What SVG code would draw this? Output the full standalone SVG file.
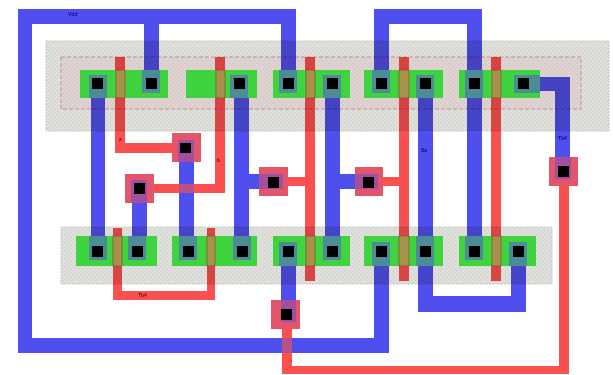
<svg xmlns="http://www.w3.org/2000/svg" width="613" height="375" viewBox="0 0 613 375">
<defs>
<pattern id="hatch" width="4" height="4" patternUnits="userSpaceOnUse">
<rect width="4" height="4" fill="#e0e0dc"/>
<path d="M0 4L4 0" stroke="#d2d2cc" stroke-width="1"/>
</pattern>
</defs>
<style>
.well{fill:url(#hatch);stroke:#c8c8c0;stroke-width:1;stroke-dasharray:2 1;mix-blend-mode:multiply}
.nw{fill:#fff2f5;stroke:#d8aab4;stroke-width:1;stroke-dasharray:4 2;mix-blend-mode:multiply}
.diff{fill:#3fd33f}
.poly{fill:#fb5050}
.gate{fill:#a8924a;stroke:#8a4a30;stroke-width:.7}
.m{fill:#4f4fee}
.ct{fill:#4b8c96}
.pad{fill:#e2556a}
.padin{fill:#a44f9e}
.x{fill:#b8508a}
.b{fill:#000}
.lb{font-family:"Liberation Sans",sans-serif;font-size:5px;font-weight:bold}
</style>
<rect width="613" height="375" fill="#fff"/>
<g id="connectors">
<path class="poly" d="M115 57h10v86h47v10h-57z"/>
<path class="poly" d="M215 57h10v136h-85v-9h75z"/>
<path class="poly" d="M305 57h10v224h-10v-95h-25v-9h25z"/>
<path class="poly" d="M399 57h10v224h-10v-95h-25v-9h25z"/>
<rect class="poly" x="491" y="57" width="10" height="224"/>
<path class="poly" d="M113 228h9v63h85v-63h8v72H113z"/>
<path class="poly" d="M282 314h10v52h267V171h10v203H282z"/>
<path class="m" d="M18 9h278v75h-15V24H159v60h-15V24H32v314h342V251h15v102H18z"/>
<path class="m" d="M374 9h108v242h-15V24h-78v60h-15z"/>
<rect class="m" x="91" y="84" width="14" height="167"/>
<path class="m" d="M234 84h15v90h20v15h-20v62h-15z"/>
<path class="m" d="M325 84h15v90h28v15h-28v62h-15z"/>
<path class="m" d="M418 84h15v212h78v-45h15v61H418z"/>
<path class="m" d="M523 77h47v94h-15V91h-32z"/>
<rect class="m" x="179" y="147" width="15" height="104"/>
<rect class="m" x="132" y="188" width="15" height="63"/>
<rect class="m" x="281" y="251" width="15" height="63"/>
<rect class="x" x="179" y="184" width="15" height="9"/>
<rect class="x" x="282" y="338" width="10" height="15"/>
</g>
<g id="wells">
<rect class="well" x="46" y="41" width="563" height="90"/>
<rect class="nw" x="61" y="57" width="520" height="52"/>
<rect class="well" x="61" y="227" width="491" height="57"/>
</g>
<g id="diffusion">
<rect class="diff" x="80" y="70" width="88" height="28"/>
<rect class="diff" x="186" y="70" width="71" height="28"/>
<rect class="diff" x="273" y="70" width="77" height="28"/>
<rect class="diff" x="364" y="70" width="79" height="28"/>
<rect class="diff" x="459" y="70" width="81" height="28"/>
<rect class="diff" x="76" y="236" width="81" height="30"/>
<rect class="diff" x="172" y="236" width="85" height="30"/>
<rect class="diff" x="273" y="236" width="77" height="30"/>
<rect class="diff" x="364" y="236" width="79" height="30"/>
<rect class="diff" x="459" y="236" width="77" height="30"/>
</g>
<g id="gates">
<rect class="gate" x="116" y="70" width="9" height="28"/>
<rect class="gate" x="216" y="70" width="9" height="28"/>
<rect class="gate" x="306" y="70" width="9" height="28"/>
<rect class="gate" x="399" y="70" width="10" height="28"/>
<rect class="gate" x="492" y="70" width="9" height="28"/>
<rect class="gate" x="113" y="236" width="9" height="30"/>
<rect class="gate" x="207" y="236" width="8" height="30"/>
<rect class="gate" x="306" y="236" width="9" height="30"/>
<rect class="gate" x="399" y="236" width="10" height="30"/>
<rect class="gate" x="492" y="236" width="9" height="30"/>
</g>
<g id="diff-contacts">
<g id="c1"><rect class="ct" x="89" y="75" width="18" height="23"/><rect class="b" x="92" y="78" width="11" height="11"/></g>
<g id="c2"><rect class="ct" x="142" y="70" width="18" height="23"/><rect class="b" x="146" y="78" width="11" height="11"/></g>
<g id="c3"><rect class="ct" x="230" y="75" width="18" height="23"/><rect class="b" x="234" y="78" width="11" height="11"/></g>
<g id="c4"><rect class="ct" x="279" y="70" width="18" height="23"/><rect class="b" x="283" y="78" width="11" height="11"/></g>
<g id="c5"><rect class="ct" x="323" y="75" width="18" height="23"/><rect class="b" x="327" y="78" width="11" height="11"/></g>
<g id="c6"><rect class="ct" x="372" y="70" width="18" height="23"/><rect class="b" x="376" y="78" width="11" height="11"/></g>
<g id="c7"><rect class="ct" x="416" y="75" width="18" height="23"/><rect class="b" x="420" y="78" width="11" height="11"/></g>
<g id="c8"><rect class="ct" x="465" y="70" width="18" height="28"/><rect class="b" x="469" y="78" width="11" height="11"/></g>
<g id="c9"><rect class="ct" x="514" y="75" width="26" height="18"/><rect class="b" x="518" y="78" width="11" height="11"/></g>
<g id="c10"><rect class="ct" x="89" y="236" width="18" height="24"/><rect class="b" x="92" y="246" width="11" height="11"/></g>
<g id="c11"><rect class="ct" x="128" y="236" width="18" height="24"/><rect class="b" x="132" y="246" width="11" height="11"/></g>
<g id="c12"><rect class="ct" x="179" y="236" width="18" height="24"/><rect class="b" x="183" y="246" width="11" height="11"/></g>
<g id="c13"><rect class="ct" x="233" y="236" width="18" height="24"/><rect class="b" x="237" y="246" width="11" height="11"/></g>
<g id="c14"><rect class="ct" x="279" y="242" width="18" height="24"/><rect class="b" x="283" y="246" width="11" height="11"/></g>
<g id="c15"><rect class="ct" x="323" y="236" width="18" height="24"/><rect class="b" x="327" y="246" width="11" height="11"/></g>
<g id="c16"><rect class="ct" x="372" y="242" width="18" height="24"/><rect class="b" x="376" y="246" width="11" height="11"/></g>
<g id="c17"><rect class="ct" x="416" y="236" width="18" height="30"/><rect class="b" x="420" y="246" width="11" height="11"/></g>
<g id="c18"><rect class="ct" x="465" y="236" width="18" height="24"/><rect class="b" x="469" y="246" width="11" height="11"/></g>
<g id="c19"><rect class="ct" x="509" y="242" width="18" height="24"/><rect class="b" x="513" y="246" width="11" height="11"/></g>
</g>
<g id="poly-contacts">
<g id="p1"><rect class="pad" x="172" y="133" width="29" height="29"/><rect class="padin" x="178" y="140" width="16" height="22"/><rect class="b" x="180" y="143" width="11" height="10"/></g>
<g id="p2"><rect class="pad" x="125" y="174" width="29" height="29"/><rect class="padin" x="131" y="180" width="16" height="23"/><rect class="b" x="134" y="183" width="11" height="11"/></g>
<g id="p3"><rect class="pad" x="259" y="167" width="29" height="29"/><rect class="padin" x="259" y="174" width="24" height="15"/><rect class="b" x="268" y="177" width="11" height="11"/></g>
<g id="p4"><rect class="pad" x="355" y="167" width="28" height="29"/><rect class="padin" x="355" y="174" width="23" height="15"/><rect class="b" x="363" y="177" width="11" height="11"/></g>
<g id="p5"><rect class="pad" x="549" y="157" width="29" height="29"/><rect class="padin" x="555" y="157" width="16" height="22"/><rect class="b" x="558" y="166" width="11" height="11"/></g>
<g id="p6"><rect class="pad" x="271" y="300" width="29" height="29"/><rect class="padin" x="281" y="300" width="15" height="22"/><rect class="b" x="281" y="309" width="11" height="11"/></g>
</g>
<g id="labels">
<text class="lb" x="68" y="16" fill="#101070">Vdd</text>
<text class="lb" x="119" y="141" fill="#701010">a</text>
<text class="lb" x="217" y="162" fill="#701010">b</text>
<text class="lb" x="421" y="152" fill="#101070">Sa</text>
<text class="lb" x="558" y="140" fill="#101070">Tb4</text>
<text class="lb" x="138" y="297" fill="#701010">Tb4</text>
</g>
</svg>
